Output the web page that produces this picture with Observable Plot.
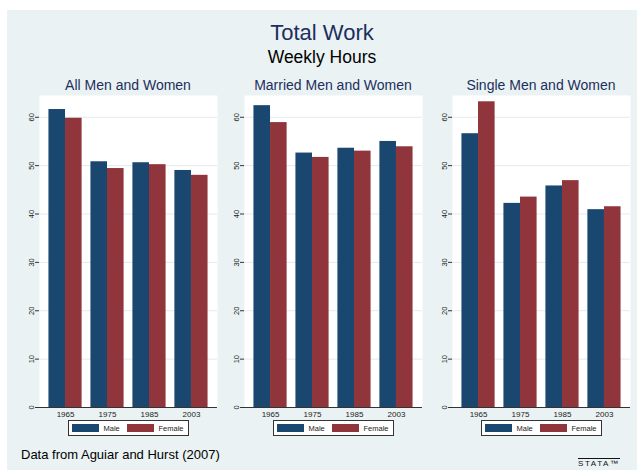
<!DOCTYPE html>
<html><head><meta charset="utf-8">
<script src="https://cdn.jsdelivr.net/npm/d3@7"></script>
<script src="https://cdn.jsdelivr.net/npm/@observablehq/plot@0.6"></script>
<style>
body{margin:0;background:#fff;width:637px;height:471px;position:relative;overflow:hidden;font-family:"Liberation Sans",Arial,Helvetica,sans-serif;}
#bg{position:absolute;left:7px;top:10px;width:630px;height:460px;background:#eaf2f3;}
.abs{position:absolute;white-space:nowrap;}
.title{left:7px;width:630px;text-align:center;top:22px;font-size:22px;line-height:22px;color:#1c2f5e;}
.sub{left:7px;width:630px;text-align:center;top:49px;font-size:17.5px;line-height:17.5px;color:#000;}
.ptitle{width:200px;text-align:center;top:78px;font-size:14px;line-height:14px;color:#1c2f5e;}
.legend{top:420px;width:119px;height:14px;border:1px solid #333;background:#fff;display:flex;align-items:center;font-size:7.5px;color:#222;box-sizing:content-box;}
.sw{width:27px;height:8px;display:inline-block;margin-left:3px;margin-right:5px;}
.caption{left:21px;top:448px;font-size:13px;line-height:13px;color:#000;}
.logo{left:578px;top:458px;font-size:8px;line-height:8px;letter-spacing:1.6px;color:#111;border-top:1.5px solid #111;padding-top:1px;}
</style>
</head><body>
<div id="bg"></div>
<div class="abs title">Total Work</div>
<div class="abs sub">Weekly Hours</div>
<div class="abs caption">Data from Aguiar and Hurst (2007)</div>
<div class="abs logo">STATA™</div>
<script>
const years = ["1965", "1975", "1985", "2003"];
const panelTitles = ["All Men and Women", "Married Men and Women", "Single Men and Women"];
const sexes = ["Male", "Female"];
const sexColors = ["#1a476f", "#90353b"];
const yTicks = [0, 10, 20, 30, 40, 50, 60];

const allMale = [61.6, 50.8, 50.6, 49.0];
const allFemale = [59.8, 49.4, 50.2, 48.0];
const marriedMale = [62.4, 52.6, 53.6, 55.0];
const marriedFemale = [58.9, 51.7, 53.0, 53.9];
const singleMale = [56.6, 42.2, 45.8, 40.9];
const singleFemale = [63.2, 43.5, 46.9, 41.5];

const panelData = [[allMale, allFemale], [marriedMale, marriedFemale], [singleMale, singleFemale]];
const areaLeft = [39, 244, 452];
const ML = 24, MR = 2, AREA = 178;

function makePlot(male, female, inset) {
  const rows = years.map((y, i) => ({year: y, male: male[i], female: female[i]}));
  return Plot.plot({
    width: ML + AREA + MR, height: 334,
    marginLeft: ML, marginRight: MR, marginTop: 2, marginBottom: 20,
    style: {background: "transparent", fontFamily: "Liberation Sans, Arial, sans-serif", overflow: "visible", color: "#222"},
    x: {domain: years, paddingInner: 0.21, paddingOuter: 0.225, round: false, axis: null},
    y: {domain: [0, 64.5], axis: null},
    marks: [
      Plot.frame({fill: "white", stroke: "none"}),
      Plot.gridY(yTicks.slice(1), {stroke: "#e2eaed", strokeOpacity: 1}),
      Plot.barY(rows, {x: "year", y: "male", fill: sexColors[0], insetRight: inset}),
      Plot.barY(rows, {x: "year", y: "female", fill: sexColors[1], insetLeft: inset}),
      Plot.ruleY([0], {stroke: "#333", strokeWidth: 1.2}),
      Plot.axisY(yTicks, {tickRotate: -90, tickSize: 4, tickPadding: 2, fontSize: 7.5, line: true, stroke: "#333", label: null}),
      Plot.axisX({tickSize: 0, tickPadding: 4, fontSize: 8, label: null})
    ]
  });
}

panelData.forEach(([m, f], i) => {
  const probe = makePlot(m, f, 0);
  const bw = probe.scale("x").bandwidth;
  const chart = makePlot(m, f, bw / 2);
  chart.style.position = "absolute";
  chart.style.left = (areaLeft[i] - ML) + "px";
  chart.style.top = "93px";
  document.body.appendChild(chart);

  const center = areaLeft[i] + AREA / 2;
  const t = document.createElement("div");
  t.className = "abs ptitle";
  t.style.left = (center - 100) + "px";
  t.textContent = panelTitles[i];
  document.body.appendChild(t);

  const lg = document.createElement("div");
  lg.className = "abs legend";
  lg.style.left = (center - 60.5) + "px";
  sexes.forEach((s, j) => {
    const sw = document.createElement("span");
    sw.className = "sw";
    sw.style.background = sexColors[j];
    lg.appendChild(sw);
    const tx = document.createElement("span");
    tx.textContent = s;
    tx.style.width = j === 0 ? "20px" : "26px";
    tx.style.display = "inline-block";
    lg.appendChild(tx);
  });
  document.body.appendChild(lg);
});
</script>
</body></html>
